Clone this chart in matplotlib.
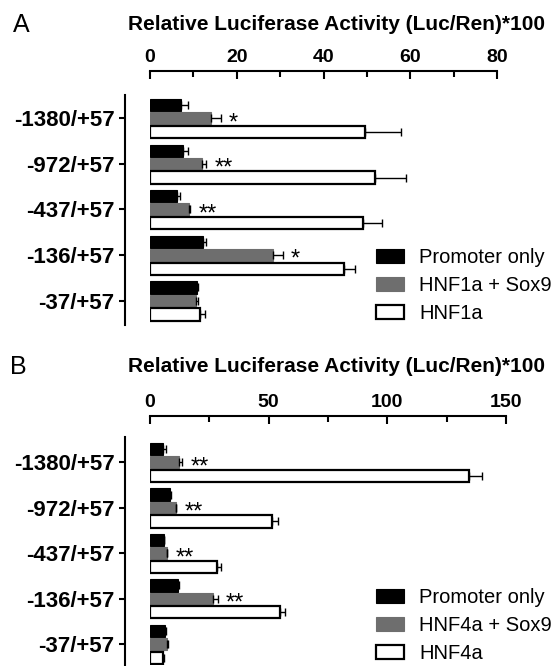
import matplotlib
matplotlib.use("Agg")
import matplotlib.pyplot as plt
import numpy as np

plt.rcParams['font.family'] = ['Liberation Sans', 'DejaVu Sans']

# ---------------- data ----------------
constructs = ['-1380/+57', '-972/+57', '-437/+57', '-136/+57', '-37/+57']

a_promoter = [7.1, 7.6, 6.3, 12.3, 10.9]
a_promoter_err = [1.6, 1.2, 0.6, 0.6, 0.2]
a_sox9 = [14.1, 12.1, 9.0, 28.3, 10.7]
a_sox9_err = [2.2, 0.9, 0.3, 2.3, 0.3]
a_tf = [49.5, 51.8, 49.2, 44.7, 11.5]
a_tf_err = [8.3, 7.2, 4.4, 2.5, 1.2]
a_stars = ['*', '**', '**', '*', '']
a_labels = ['Promoter only', 'HNF1a + Sox9', 'HNF1a']
a_ticks = [0, 20, 40, 60, 80]

b_promoter = [5.6, 8.3, 5.8, 11.8, 6.5]
b_promoter_err = [1.0, 0.5, 0.3, 0.6, 0.2]
b_sox9 = [12.1, 10.8, 7.0, 26.4, 7.0]
b_sox9_err = [1.4, 0.3, 0.3, 2.1, 0.7]
b_tf = [134.4, 51.3, 28.4, 54.8, 5.5]
b_tf_err = [5.6, 2.5, 1.4, 2.0, 0.2]
b_stars = ['**', '**', '**', '**', '']
b_labels = ['Promoter only', 'HNF4a + Sox9', 'HNF4a']
b_ticks = [0, 50, 100, 150]

xlabel = 'Relative Luciferase Activity (Luc/Ren)*100'

W, H = 555, 666
fig = plt.figure(figsize=(W / 100, H / 100), dpi=100)


def px(x, y):
    return x / W, 1 - y / H


def panel(rect, ylim, prom, prom_e, sox, sox_e, tf, tf_e, stars, labels,
          ticks, top_out, leg_xy):
    ax = fig.add_axes(rect)
    # spine placement first (it resets tick formatting)
    for s in ['right', 'bottom']:
        ax.spines[s].set_visible(False)
    ax.spines['top'].set_position(('outward', top_out))
    ax.spines['left'].set_position(('outward', 18))
    ax.spines['top'].set_linewidth(1.5)
    ax.spines['left'].set_linewidth(1.5)

    y = np.arange(len(constructs))
    h = 0.27
    ekw = dict(ecolor='black', elinewidth=1.0, capsize=3, capthick=1.0)
    z = np.zeros(len(y))
    b1 = ax.barh(y - 0.29, prom, height=h, color='black', edgecolor='black',
                 linewidth=0.8, xerr=[z, prom_e], error_kw=ekw, label=labels[0])
    b2 = ax.barh(y, sox, height=h, color='#6e6e6e', edgecolor='#6e6e6e',
                 linewidth=0.8, xerr=[z, sox_e], error_kw=ekw, label=labels[1])
    b3 = ax.barh(y + 0.30, tf, height=h, color='white', edgecolor='black',
                 linewidth=1.6, xerr=[z, tf_e], error_kw=ekw, label=labels[2])
    for i, s in enumerate(stars):
        if s:
            ax.annotate(s, (sox[i] + sox_e[i], y[i]), xytext=(6, -3.5),
                        textcoords='offset points', ha='left', va='center',
                        fontsize=17)
    ax.set_xlim(ticks[0], ticks[-1])
    ax.set_ylim(*ylim)
    ax.xaxis.tick_top()
    ax.set_yticks(y)
    ax.set_yticklabels(constructs, fontsize=16, fontweight='bold')
    ax.set_xticks(ticks)
    ax.set_xticklabels([str(t) for t in ticks], fontsize=14, fontweight='bold')
    step = ticks[1] - ticks[0]
    ax.set_xticks(np.arange(ticks[0] + step / 2, ticks[-1], step), minor=True)
    ax.tick_params(axis='x', which='major', direction='in', length=5.5,
                   width=1.5, pad=4, top=True, bottom=False,
                   labeltop=True, labelbottom=False)
    ax.tick_params(axis='x', which='minor', direction='in', length=4,
                   width=1.5, top=True, bottom=False)
    ax.tick_params(axis='y', direction='out', length=4.5, width=1.5, pad=3)
    ax.legend(handles=[b1, b2, b3], loc='upper left',
              bbox_to_anchor=px(*leg_xy), bbox_transform=fig.transFigure,
              frameon=False, fontsize=14.5, borderpad=0, borderaxespad=0,
              handlelength=1.4, handleheight=0.7, handletextpad=0.75,
              labelspacing=0.45)
    return ax


l, _ = px(150, 0)
# Panel A
_, bA = px(0, 325)
_, tA = px(0, 95)
panel([l, bA, (497 - 150) / W, tA - bA], (4.533, -0.511),
      a_promoter, a_promoter_err, a_sox9, a_sox9_err, a_tf, a_tf_err,
      a_stars, a_labels, a_ticks, 17, (376, 248))
# Panel B
_, bB = px(0, 665)
_, tB = px(0, 437)
panel([l, bB, (506 - 150) / W, tB - bB], (4.46, -0.557),
      b_promoter, b_promoter_err, b_sox9, b_sox9_err, b_tf, b_tf_err,
      b_stars, b_labels, b_ticks, 15, (376, 588))

fig.text(*px(336, 25), xlabel, ha='center', va='center', fontsize=15,
         fontweight='bold')
fig.text(*px(336, 367), xlabel, ha='center', va='center', fontsize=15,
         fontweight='bold')
fig.text(*px(13, 25), 'A', ha='left', va='center', fontsize=18)
fig.text(*px(10, 367), 'B', ha='left', va='center', fontsize=18)

fig.savefig('out.png', dpi=100)
